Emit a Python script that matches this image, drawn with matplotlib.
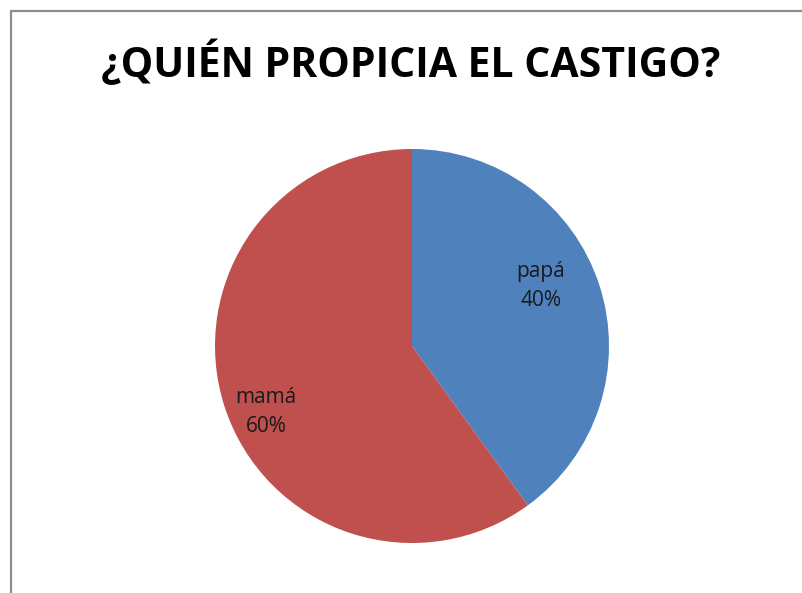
import matplotlib
matplotlib.use("Agg")
import matplotlib.pyplot as plt
from matplotlib.lines import Line2D

# data
labels = ["papá", "mamá"]
values = [40, 60]
colors = ["#4F81BD", "#C0504D"]
title = "¿QUIÉN PROPICIA EL CASTIGO?"

W, H = 802, 593
fig = plt.figure(figsize=(W / 100, H / 100), dpi=100)

# pie area: center (412, 346), radius ~197 px
cx, cy, r = 412, 346, 197
ax = fig.add_axes([(cx - r) / W, (H - cy - r) / H, 2 * r / W, 2 * r / H])

wedges, texts = ax.pie(
    values,
    colors=colors,
    startangle=90,
    counterclock=False,
    radius=1,
    wedgeprops={"linewidth": 0},
)
ax.set_xlim(-1, 1)
ax.set_ylim(-1, 1)
ax.set_aspect("equal")
ax.axis("off")

# data labels, placed roughly where the original has them
label_pos = [(0.655, 0.305), (-0.74, -0.335)]
total = sum(values)
for lab, v, (x, y) in zip(labels, values, label_pos):
    ax.text(x, y, f"{lab}\n{round(100 * v / total)}%", ha="center", va="center",
            fontsize=15, family="Open Sans", color="#1a1a1a", linespacing=1.55)

fig.text(0.512, 1 - 64 / H, title, ha="center", va="center",
         fontsize=29.5, fontweight="bold", family="Open Sans", color="black")

# chart area border (left and top only are visible)
bx, by = 10.5 / W, 1 - 10.5 / H
fig.add_artist(Line2D([bx, bx, 1], [0, by, by], transform=fig.transFigure,
                      color="#8c8c8c", linewidth=1.6))

fig.savefig("out.png", dpi=100)
